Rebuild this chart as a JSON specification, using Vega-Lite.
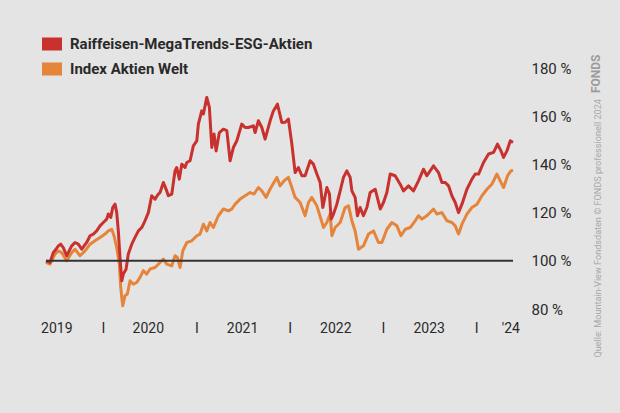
{
  "$schema": "https://vega.github.io/schema/vega-lite/v6.json",
  "width": 467,
  "height": 241,
  "autosize": {"type": "none"},
  "padding": {"left": 46, "top": 68, "right": 107, "bottom": 104},
  "background": "#e4e4e4",
  "config": {
    "view": {"stroke": null},
    "font": "Roboto, Liberation Sans, sans-serif"
  },
  "title": {
    "text": "FONDS",
    "orient": "right",
    "anchor": "start",
    "angle": 270,
    "fontSize": 12,
    "fontWeight": "bold",
    "color": "#9c9c9c",
    "offset": -20,
    "dx": -59,
    "dy": -3
  },
  "datasets": {
    "fonds": [
      {"t": 2019.389, "v": 100}, {"t": 2019.432, "v": 99.3}, {"t": 2019.467, "v": 103.4}, {"t": 2019.496, "v": 104.8},
      {"t": 2019.521, "v": 106.2}, {"t": 2019.546, "v": 106.9}, {"t": 2019.574, "v": 105.5}, {"t": 2019.611, "v": 102.1},
      {"t": 2019.664, "v": 106.2}, {"t": 2019.700, "v": 107.6}, {"t": 2019.735, "v": 106.9}, {"t": 2019.772, "v": 104.8},
      {"t": 2019.825, "v": 107.6}, {"t": 2019.861, "v": 110.4}, {"t": 2019.896, "v": 111.1}, {"t": 2019.932, "v": 112.4},
      {"t": 2019.968, "v": 114.5}, {"t": 2020.003, "v": 115.9}, {"t": 2020.040, "v": 117.3}, {"t": 2020.057, "v": 119.4},
      {"t": 2020.083, "v": 118}, {"t": 2020.104, "v": 122.1}, {"t": 2020.129, "v": 123.5}, {"t": 2020.147, "v": 120},
      {"t": 2020.164, "v": 112.4}, {"t": 2020.182, "v": 101.4}, {"t": 2020.201, "v": 91.7}, {"t": 2020.218, "v": 94.5},
      {"t": 2020.247, "v": 96.5}, {"t": 2020.271, "v": 102.8}, {"t": 2020.308, "v": 106.9}, {"t": 2020.343, "v": 109.7},
      {"t": 2020.379, "v": 112.4}, {"t": 2020.415, "v": 113.8}, {"t": 2020.450, "v": 116.6}, {"t": 2020.486, "v": 120},
      {"t": 2020.522, "v": 127}, {"t": 2020.558, "v": 125.6}, {"t": 2020.593, "v": 127.7}, {"t": 2020.611, "v": 128.3},
      {"t": 2020.647, "v": 132.5}, {"t": 2020.683, "v": 129}, {"t": 2020.700, "v": 127}, {"t": 2020.737, "v": 127.7},
      {"t": 2020.772, "v": 137.3}, {"t": 2020.790, "v": 138.7}, {"t": 2020.818, "v": 133.9}, {"t": 2020.844, "v": 140.1},
      {"t": 2020.879, "v": 138.7}, {"t": 2020.898, "v": 140.8}, {"t": 2020.933, "v": 141.5}, {"t": 2020.968, "v": 147.7},
      {"t": 2021.005, "v": 149.8}, {"t": 2021.022, "v": 156.7}, {"t": 2021.058, "v": 162.2}, {"t": 2021.076, "v": 160.9},
      {"t": 2021.112, "v": 167.8}, {"t": 2021.140, "v": 163.7}, {"t": 2021.166, "v": 147}, {"t": 2021.190, "v": 152.6},
      {"t": 2021.212, "v": 145.6}, {"t": 2021.247, "v": 153.2}, {"t": 2021.290, "v": 154.6}, {"t": 2021.327, "v": 154},
      {"t": 2021.362, "v": 141.5}, {"t": 2021.397, "v": 147}, {"t": 2021.434, "v": 149.8}, {"t": 2021.487, "v": 156.7},
      {"t": 2021.523, "v": 155.3}, {"t": 2021.558, "v": 155.3}, {"t": 2021.612, "v": 156}, {"t": 2021.630, "v": 153.2},
      {"t": 2021.665, "v": 158.1}, {"t": 2021.702, "v": 155.3}, {"t": 2021.737, "v": 150.5}, {"t": 2021.791, "v": 158.1},
      {"t": 2021.826, "v": 162.2}, {"t": 2021.869, "v": 165}, {"t": 2021.916, "v": 157.4}, {"t": 2021.952, "v": 157.5},
      {"t": 2021.987, "v": 158.8}, {"t": 2022.024, "v": 148.4}, {"t": 2022.059, "v": 136.6}, {"t": 2022.094, "v": 138.7},
      {"t": 2022.131, "v": 135.3}, {"t": 2022.166, "v": 135.3}, {"t": 2022.220, "v": 141.5}, {"t": 2022.255, "v": 140.1},
      {"t": 2022.292, "v": 136}, {"t": 2022.327, "v": 132.5}, {"t": 2022.356, "v": 122.1}, {"t": 2022.399, "v": 130.4},
      {"t": 2022.427, "v": 127.7}, {"t": 2022.445, "v": 117.3}, {"t": 2022.470, "v": 119.4}, {"t": 2022.506, "v": 123.5},
      {"t": 2022.542, "v": 129}, {"t": 2022.577, "v": 134.6}, {"t": 2022.613, "v": 137.3}, {"t": 2022.649, "v": 134.6},
      {"t": 2022.667, "v": 129}, {"t": 2022.702, "v": 126.3}, {"t": 2022.727, "v": 118.7}, {"t": 2022.756, "v": 122.1},
      {"t": 2022.791, "v": 118.7}, {"t": 2022.828, "v": 122.1}, {"t": 2022.863, "v": 128.3}, {"t": 2022.917, "v": 129.7},
      {"t": 2022.971, "v": 121.5}, {"t": 2023.006, "v": 124.2}, {"t": 2023.042, "v": 128.3}, {"t": 2023.078, "v": 136},
      {"t": 2023.131, "v": 135.3}, {"t": 2023.185, "v": 131.8}, {"t": 2023.220, "v": 129}, {"t": 2023.274, "v": 131.1},
      {"t": 2023.328, "v": 129}, {"t": 2023.381, "v": 133.2}, {"t": 2023.435, "v": 138}, {"t": 2023.471, "v": 135.3},
      {"t": 2023.542, "v": 139.4}, {"t": 2023.596, "v": 136.6}, {"t": 2023.632, "v": 132.5}, {"t": 2023.668, "v": 132.5},
      {"t": 2023.703, "v": 131.1}, {"t": 2023.739, "v": 127}, {"t": 2023.775, "v": 124.2}, {"t": 2023.810, "v": 120},
      {"t": 2023.847, "v": 123.5}, {"t": 2023.900, "v": 129.7}, {"t": 2023.954, "v": 133.9}, {"t": 2023.989, "v": 136},
      {"t": 2024.025, "v": 136}, {"t": 2024.078, "v": 140.8}, {"t": 2024.132, "v": 144.3}, {"t": 2024.186, "v": 145},
      {"t": 2024.228, "v": 148.4}, {"t": 2024.265, "v": 145.6}, {"t": 2024.293, "v": 142.9}, {"t": 2024.329, "v": 145.6},
      {"t": 2024.365, "v": 149.8}, {"t": 2024.394, "v": 149.1}
    ],
    "index": [
      {"t": 2019.389, "v": 99.3}, {"t": 2019.432, "v": 98.6}, {"t": 2019.485, "v": 102.8}, {"t": 2019.521, "v": 104.1},
      {"t": 2019.557, "v": 103.4}, {"t": 2019.611, "v": 100}, {"t": 2019.664, "v": 103.4}, {"t": 2019.700, "v": 104.8},
      {"t": 2019.753, "v": 102.1}, {"t": 2019.807, "v": 104.1}, {"t": 2019.861, "v": 106.9}, {"t": 2019.914, "v": 108.3},
      {"t": 2019.968, "v": 109.7}, {"t": 2020.021, "v": 111.1}, {"t": 2020.057, "v": 112.4}, {"t": 2020.093, "v": 113.1},
      {"t": 2020.118, "v": 110.4}, {"t": 2020.147, "v": 105.5}, {"t": 2020.175, "v": 98.6}, {"t": 2020.190, "v": 88.9},
      {"t": 2020.211, "v": 81.3}, {"t": 2020.236, "v": 85.5}, {"t": 2020.261, "v": 86.2}, {"t": 2020.290, "v": 91.7},
      {"t": 2020.325, "v": 90.3}, {"t": 2020.361, "v": 91}, {"t": 2020.397, "v": 93.1}, {"t": 2020.432, "v": 95.9},
      {"t": 2020.469, "v": 94.5}, {"t": 2020.504, "v": 96.6}, {"t": 2020.558, "v": 97.2}, {"t": 2020.593, "v": 98.6},
      {"t": 2020.611, "v": 99.3}, {"t": 2020.647, "v": 100.7}, {"t": 2020.683, "v": 98.6}, {"t": 2020.737, "v": 97.9},
      {"t": 2020.772, "v": 102.1}, {"t": 2020.797, "v": 101.4}, {"t": 2020.826, "v": 97.2}, {"t": 2020.855, "v": 104.1},
      {"t": 2020.898, "v": 107.6}, {"t": 2020.951, "v": 108.3}, {"t": 2021.005, "v": 110.4}, {"t": 2021.040, "v": 111.1},
      {"t": 2021.076, "v": 115.2}, {"t": 2021.112, "v": 112.4}, {"t": 2021.147, "v": 115.9}, {"t": 2021.183, "v": 113.8},
      {"t": 2021.236, "v": 118.7}, {"t": 2021.290, "v": 121.5}, {"t": 2021.344, "v": 120.7}, {"t": 2021.380, "v": 121.5},
      {"t": 2021.416, "v": 123.5}, {"t": 2021.469, "v": 125.6}, {"t": 2021.523, "v": 127}, {"t": 2021.576, "v": 128.3},
      {"t": 2021.619, "v": 127.7}, {"t": 2021.665, "v": 130.4}, {"t": 2021.702, "v": 129}, {"t": 2021.748, "v": 126.3},
      {"t": 2021.791, "v": 129.8}, {"t": 2021.863, "v": 134.6}, {"t": 2021.898, "v": 131.1}, {"t": 2021.941, "v": 133.2},
      {"t": 2021.987, "v": 134.6}, {"t": 2022.024, "v": 130.4}, {"t": 2022.059, "v": 126.3}, {"t": 2022.113, "v": 124.2},
      {"t": 2022.166, "v": 118.7}, {"t": 2022.202, "v": 124.2}, {"t": 2022.238, "v": 126.3}, {"t": 2022.292, "v": 122.8},
      {"t": 2022.363, "v": 113.8}, {"t": 2022.399, "v": 115.9}, {"t": 2022.434, "v": 119.4}, {"t": 2022.453, "v": 110.4},
      {"t": 2022.488, "v": 113.8}, {"t": 2022.542, "v": 115.9}, {"t": 2022.595, "v": 122.1}, {"t": 2022.631, "v": 122.8},
      {"t": 2022.667, "v": 116.6}, {"t": 2022.702, "v": 112.4}, {"t": 2022.738, "v": 104.8}, {"t": 2022.791, "v": 106.2},
      {"t": 2022.845, "v": 111.1}, {"t": 2022.899, "v": 112.4}, {"t": 2022.952, "v": 107.6}, {"t": 2022.989, "v": 107.6},
      {"t": 2023.042, "v": 113.1}, {"t": 2023.096, "v": 115.9}, {"t": 2023.150, "v": 114.5}, {"t": 2023.193, "v": 110.4},
      {"t": 2023.239, "v": 113.1}, {"t": 2023.292, "v": 113.8}, {"t": 2023.346, "v": 116.6}, {"t": 2023.381, "v": 118.7},
      {"t": 2023.418, "v": 117.3}, {"t": 2023.471, "v": 118.7}, {"t": 2023.542, "v": 121.5}, {"t": 2023.579, "v": 119.4},
      {"t": 2023.632, "v": 120}, {"t": 2023.686, "v": 116.6}, {"t": 2023.739, "v": 115.9}, {"t": 2023.775, "v": 114.5},
      {"t": 2023.810, "v": 111.1}, {"t": 2023.847, "v": 115.2}, {"t": 2023.900, "v": 119.4}, {"t": 2023.954, "v": 122.1},
      {"t": 2024.008, "v": 123.5}, {"t": 2024.061, "v": 127}, {"t": 2024.115, "v": 129.7}, {"t": 2024.168, "v": 131.8},
      {"t": 2024.222, "v": 136}, {"t": 2024.257, "v": 133.2}, {"t": 2024.293, "v": 130.4}, {"t": 2024.336, "v": 135.3},
      {"t": 2024.372, "v": 137.3}, {"t": 2024.394, "v": 137.6}
    ]
  },
  "layer": [
    {
      "data": {"name": "index"},
      "mark": {"type": "line", "strokeWidth": 3, "strokeJoin": "round"},
      "encoding": {
        "x": {
          "field": "t",
          "type": "quantitative",
          "scale": {"domain": [2019.389, 2024.394], "nice": false, "zero": false},
          "axis": {
            "title": null,
            "values": [2019.5, 2020, 2020.48, 2021, 2021.49, 2022, 2022.49, 2023, 2023.49, 2024, 2024.365],
            "labelExpr": "datum.value == floor(datum.value) ? 'I' : (datum.value > 2024 ? \"'24\" : format(floor(datum.value), 'd'))",
            "domain": false,
            "ticks": false,
            "grid": false,
            "labelPadding": 12,
            "labelFontSize": 14,
            "labelColor": "#2a2a2a",
            "labelOverlap": false,
            "labelBound": false,
            "labelFlush": false
          }
        },
        "y": {
          "field": "v",
          "type": "quantitative",
          "scale": {"domain": [80, 180], "nice": false, "zero": false},
          "axis": {
            "orient": "right",
            "values": [80, 100, 120, 140, 160, 180],
            "labelExpr": "datum.value + ' %'",
            "domain": false,
            "ticks": false,
            "grid": false,
            "labelPadding": 18,
            "labelFontSize": 15,
            "labelAlign": "left",
            "labelColor": "#2a2a2a",
            "labelOverlap": false,
            "title": "Quelle: Mountain-View Fondsdaten  © FONDS professionell 2024",
            "titleAngle": 270,
            "titleAlign": "left",
            "titleBaseline": "middle",
            "titleX": 84,
            "titleY": 289,
            "titleFontSize": 9.1,
            "titleFontWeight": "normal",
            "titleColor": "#a8a8a8"
          }
        },
        "color": {
          "datum": "Index Aktien Welt",
          "type": "nominal",
          "scale": {
            "domain": ["Raiffeisen-MegaTrends-ESG-Aktien", "Index Aktien Welt"],
            "range": ["#c8312e", "#e5843b"]
          },
          "legend": {
            "orient": "none",
            "legendX": -4,
            "legendY": -34,
            "title": null,
            "padding": 0,
            "symbolType": "M-1,-0.65H1V0.65H-1Z",
            "symbolSize": 400,
            "symbolStrokeWidth": 0,
            "labelFontSize": 15,
            "labelFontWeight": "bold",
            "labelColor": "#2a2a2a",
            "labelOffset": 8,
            "labelLimit": 400,
            "rowPadding": 7,
            "encode": {
              "symbols": {
                "update": {
                  "fill": {"scale": "color", "field": "value"},
                  "strokeWidth": {"value": 0}
                }
              }
            }
          }
        }
      }
    },
    {
      "data": {"name": "fonds"},
      "mark": {"type": "line", "strokeWidth": 3, "strokeJoin": "round"},
      "encoding": {
        "x": {"field": "t", "type": "quantitative"},
        "y": {"field": "v", "type": "quantitative"},
        "color": {"datum": "Raiffeisen-MegaTrends-ESG-Aktien", "type": "nominal"}
      }
    },
    {
      "data": {"values": [{}]},
      "mark": {"type": "rule", "color": "#333333", "strokeWidth": 2},
      "encoding": {"y": {"datum": 100, "type": "quantitative"}}
    }
  ]
}
